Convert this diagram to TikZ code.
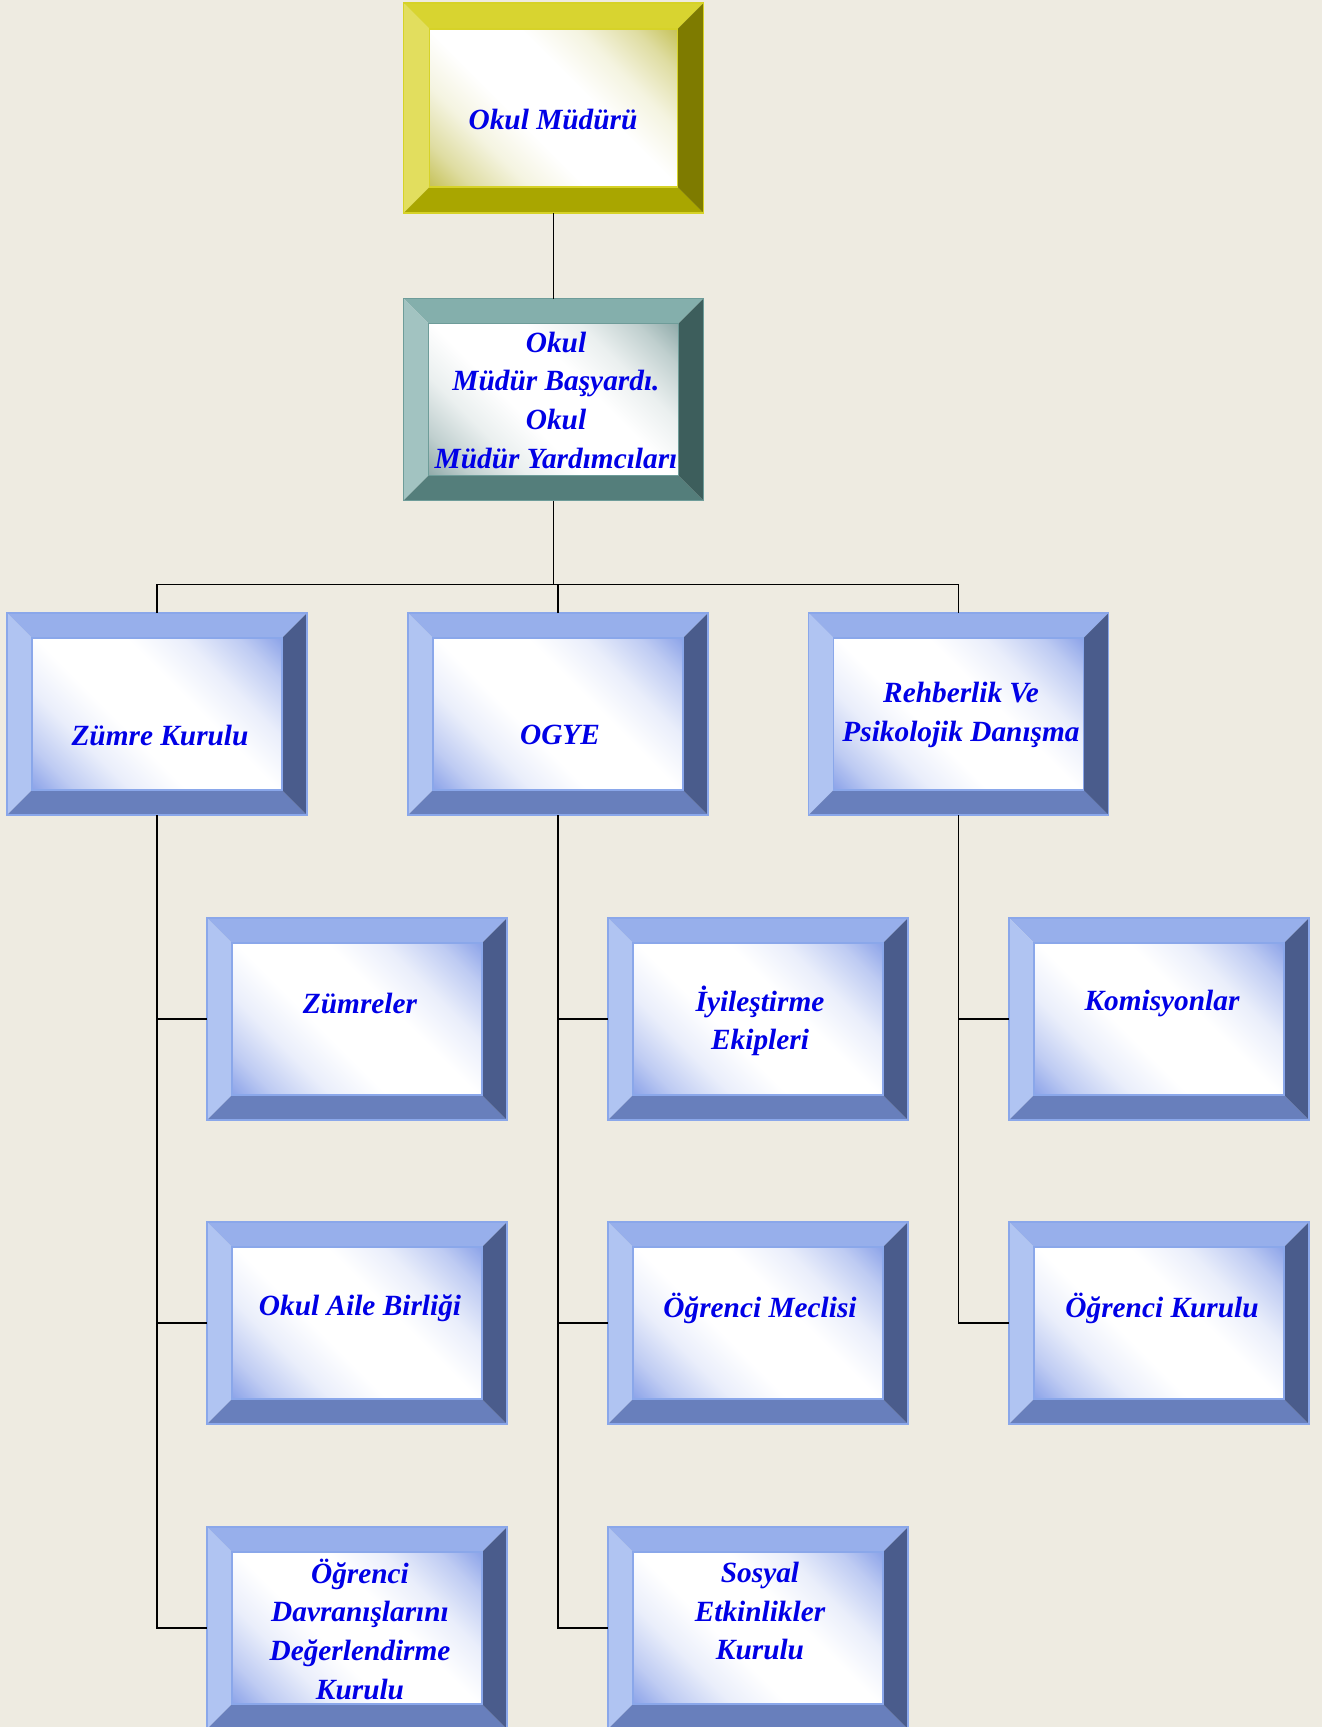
\documentclass[tikz,border=0pt]{standalone}
\usepackage{fontspec}
\setmainfont{Liberation Serif}
\usetikzlibrary{calc}

\definecolor{paper}{RGB}{238,235,225}
\definecolor{ink}{RGB}{0,0,230}
% blue frames
\definecolor{bluT}{RGB}{151,175,235}
\definecolor{bluL}{RGB}{176,196,242}
\definecolor{bluB}{RGB}{104,127,188}
\definecolor{bluR}{RGB}{74,92,140}
\definecolor{bluO}{RGB}{138,167,234}
\definecolor{bluC}{RGB}{136,160,232}
% yellow frame
\definecolor{ylwT}{RGB}{216,212,48}
\definecolor{ylwL}{RGB}{226,222,94}
\definecolor{ylwB}{RGB}{169,166,0}
\definecolor{ylwR}{RGB}{126,123,0}
\definecolor{ylwO}{RGB}{214,210,40}
\definecolor{ylwC}{RGB}{196,192,84}
% teal frame
\definecolor{tlT}{RGB}{132,175,172}
\definecolor{tlL}{RGB}{162,195,193}
\definecolor{tlB}{RGB}{84,126,123}
\definecolor{tlR}{RGB}{61,94,92}
\definecolor{tlO}{RGB}{110,156,153}
\definecolor{tlC}{RGB}{140,168,167}

% diagonal face shading: tinted corners fading into a broad white middle
\pgfdeclareverticalshading[shc]{facesh}{100bp}{color(0bp)=(shc); color(14bp)=(shc); color(22bp)=(shc!55!white); color(32bp)=(shc!18!white); color(42bp)=(white); color(58bp)=(white); color(68bp)=(shc!18!white); color(78bp)=(shc!55!white); color(86bp)=(shc); color(100bp)=(shc)}

\tikzset{
  x=0.75pt, y=-0.75pt,
  box/.style={rectangle, minimum width=225pt, minimum height=151.5pt, inner sep=0pt, outer sep=0pt},
  lbl/.style={font=\fontsize{22}{29}\selectfont\bfseries\itshape, text=ink, align=center, inner sep=0pt},
  conn/.style={draw=black, line width=1.4pt}
}

% bevelled frame around an existing node: #1 node, #2 palette, #3 bevel width
\newcommand\bevelframe[3]{%
  \begin{scope}
    \colorlet{shc}{#2C}
    \coordinate (#1-a) at ($(#1.north west)+(#3,#3)$);
    \coordinate (#1-b) at ($(#1.north east)+(-#3,#3)$);
    \coordinate (#1-c) at ($(#1.south east)+(-#3,-#3)$);
    \coordinate (#1-d) at ($(#1.south west)+(#3,-#3)$);
    \fill[#2T] (#1.north west) -- (#1.north east) -- (#1-b) -- (#1-a) -- cycle;
    \fill[#2L] (#1.north west) -- (#1-a) -- (#1-d) -- (#1.south west) -- cycle;
    \fill[#2B] (#1.south west) -- (#1-d) -- (#1-c) -- (#1.south east) -- cycle;
    \fill[#2R] (#1.north east) -- (#1.south east) -- (#1-c) -- (#1-b) -- cycle;
    \shade[shading=facesh, shading angle=-45] (#1-a) rectangle (#1-c);
    \draw[#2O, line width=0.8pt] (#1-a) rectangle (#1-c);
    \draw[#2O, line width=0.8pt] (#1.north west) rectangle (#1.south east);
  \end{scope}}

\begin{document}
\begin{tikzpicture}
\useasboundingbox (0,0) rectangle (1322,1727);
\fill[paper] (0,0) rectangle (1322,1727);

% top levels
\node[box, minimum height=157.5pt] (mud) at (553.5,108) {};
\bevelframe{mud}{ylw}{26}
\node[box] (yrd) at (553.5,399.5) {};
\bevelframe{yrd}{tl}{25}

% committees
\node[box] (zk) at (157,714) {};   \bevelframe{zk}{blu}{25}
\node[box] (og) at (558,714) {};   \bevelframe{og}{blu}{25}
\node[box] (rp) at (958.5,714) {}; \bevelframe{rp}{blu}{25}

% sub-units
\node[box] (zm) at (357,1019) {};  \bevelframe{zm}{blu}{25}
\node[box] (oab) at (357,1323) {}; \bevelframe{oab}{blu}{25}
\node[box] (odk) at (357,1628) {}; \bevelframe{odk}{blu}{25}
\node[box] (ie) at (758,1019) {};  \bevelframe{ie}{blu}{25}
\node[box] (om) at (758,1323) {};  \bevelframe{om}{blu}{25}
\node[box] (sek) at (758,1628) {}; \bevelframe{sek}{blu}{25}
\node[box] (km) at (1159,1019) {}; \bevelframe{km}{blu}{25}
\node[box] (ok) at (1159,1323) {}; \bevelframe{ok}{blu}{25}

% labels
\node[lbl] (mud-t) at (553,119) {Okul Müdürü};
\node[lbl] (yrd-t) at (556,400) {Okul\\Müdür Başyardı.\\Okul\\Müdür Yardımcıları};
\node[lbl] (zk-t) at (160,735) {Zümre Kurulu};
\node[lbl] (og-t) at (560,735) {OGYE};
\node[lbl] (rp-t) at (961,715) {Rehberlik Ve\\Psikolojik Danışma};
\node[lbl] (zm-t) at (360,1003) {Zümreler};
\node[lbl] (oab-t) at (360,1308) {Okul Aile Birliği};
\node[lbl] (odk-t) at (360,1629) {Öğrenci\\Davranışlarını\\Değerlendirme\\Kurulu};
\node[lbl] (ie-t) at (760,1021) {İyileştirme\\Ekipleri};
\node[lbl] (om-t) at (760,1308) {Öğrenci Meclisi};
\node[lbl] (sek-t) at (760,1611) {Sosyal\\Etkinlikler\\Kurulu};
\node[lbl] (km-t) at (1162,1003) {Komisyonlar};
\node[lbl] (ok-t) at (1162,1308) {Öğrenci Kurulu};

% connectors
\coordinate (bus) at ($(yrd.south)+(0,84)$);
\draw[conn] (mud.south) -- (yrd.north);
\draw[conn] (yrd.south) -- (bus);
\draw[conn] (zk.north) |- (rp.north |- bus) -- (rp.north);
\draw[conn] (og.north) -- (og.north |- bus);

\draw[conn] (zk.south) |- (odk.west);
\draw[conn] (zk.south |- zm.west) -- (zm.west);
\draw[conn] (zk.south |- oab.west) -- (oab.west);

\draw[conn] (og.south) |- (sek.west);
\draw[conn] (og.south |- ie.west) -- (ie.west);
\draw[conn] (og.south |- om.west) -- (om.west);

\draw[conn] (rp.south) |- (ok.west);
\draw[conn] (rp.south |- km.west) -- (km.west);
\end{tikzpicture}
\end{document}
